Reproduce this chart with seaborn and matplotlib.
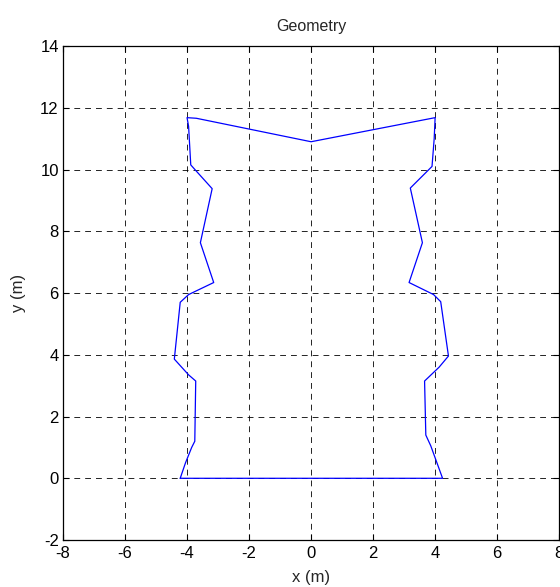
import numpy as np
import pandas as pd
import matplotlib
matplotlib.use('Agg')
import matplotlib.pyplot as plt
import seaborn as sns

# outline of the section, counter-clockwise from bottom-left (m)
x_m = [-4.22, -4.05, -3.85, -3.75, -3.72, -3.95, -4.41, -4.22, -3.95, -3.14,
       -3.57, -3.19, -3.72, -3.88, -3.95, -4.00, -3.70, 0.00, 4.00, 3.97,
       3.90, 3.20, 3.59, 3.16, 3.95, 4.18, 4.43, 4.13, 3.66, 3.70,
       3.86, 4.24, -4.22]
y_m = [0.00, 0.50, 1.00, 1.20, 3.15, 3.35, 3.86, 5.70, 5.95, 6.34,
       7.63, 9.38, 9.97, 10.15, 11.40, 11.68, 11.66, 10.90, 11.68, 11.00,
       10.10, 9.40, 7.63, 6.34, 5.95, 5.72, 3.96, 3.60, 3.15, 1.40,
       1.05, 0.00, 0.00]

x_ticks = [-8, -6, -4, -2, 0, 2, 4, 6, 8]
y_ticks = [-2, 0, 2, 4, 6, 8, 10, 12, 14]

df = pd.DataFrame({'x': x_m, 'y': y_m})

sns.set_style('white')
plt.rcParams['font.family'] = ['Liberation Sans', 'DejaVu Sans']

fig = plt.figure(figsize=(5.6, 5.87), dpi=100)
ax = fig.add_axes([0.1125, 0.080, 0.886, 0.8416])

sns.lineplot(data=df, x='x', y='y', sort=False, estimator=None,
             color='#0000ff', linewidth=0.9, ax=ax)

ax.set_xlim(-8, 8)
ax.set_ylim(-2, 14)
ax.set_xticks(x_ticks)
ax.set_yticks(y_ticks)
ax.set_xticklabels([str(v) for v in x_ticks], fontsize=12)
ax.set_yticklabels([str(v) for v in y_ticks], fontsize=12)
ax.tick_params(direction='in', length=4, width=0.8, colors='black', pad=3,
               top=True, right=True, bottom=True, left=True)
ax.tick_params(axis='x', pad=4)
ax.grid(True, color='black', linestyle=(0, (7, 6)), linewidth=0.6)
for s in ax.spines.values():
    s.set_color('black')
    s.set_linewidth(0.9)

ax.set_xlabel('x (m)', fontsize=12, labelpad=7)
ax.set_ylabel('y (m)', fontsize=12, labelpad=10)
ax.set_title('Geometry', fontsize=11.5, pad=11)

fig.savefig('out.png', dpi=100)
